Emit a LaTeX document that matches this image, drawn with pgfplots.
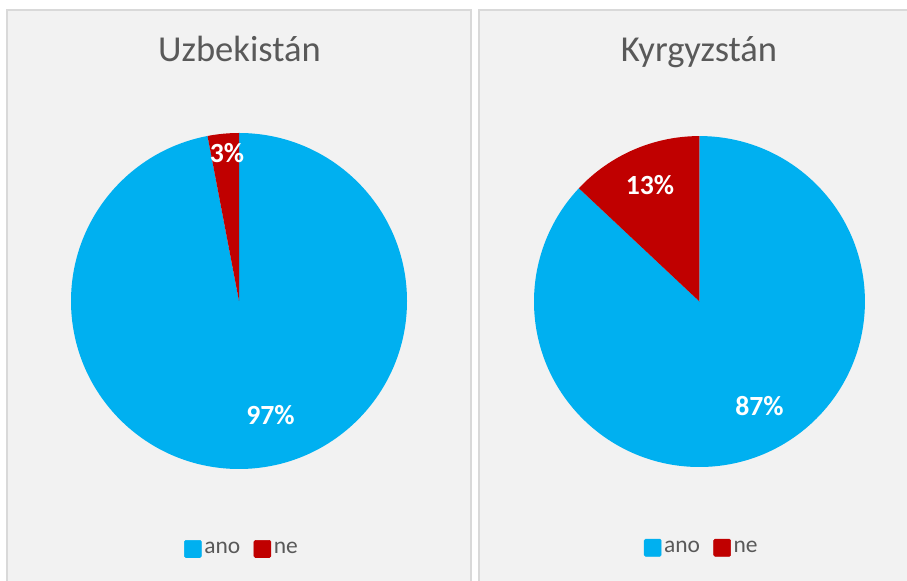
\documentclass[border=0pt]{standalone}
\usepackage{pgfplots}
\usepackage{pgfplotstable}
\pgfplotsset{compat=1.18}
\usepackage{fontspec}
\setmainfont{Carlito}
\definecolor{ano}{HTML}{00B0F0}
\definecolor{ne}{HTML}{C00000}
\definecolor{panel}{HTML}{F2F2F2}
\definecolor{frame}{HTML}{D9D9D9}
\definecolor{txt}{HTML}{595959}

\pgfplotstableread{
kat hodnota
ano 97
ne 3
}\uzbtab
\pgfplotstableread{
kat hodnota
ano 87
ne 13
}\kyrtab

\pgfplotsset{
  pieaxis/.style={
    hide axis, scale only axis, clip=false,
    xmin=-1, xmax=1, ymin=-1, ymax=1,
    anchor=center,
    legend columns=2,
    legend style={font=\fontsize{17.6}{20}\selectfont, text=txt, draw=none, fill=none,
      anchor=center, nodes={inner xsep=2pt},
      /tikz/every even column/.append style={column sep=8pt}},
    legend image code/.code={\fill[##1, rounded corners=1pt] (0pt,-6.4pt) rectangle (12.75pt,6.4pt);},
  },
}
\tikzset{lbl/.style={text=white, font=\fontsize{20.8}{23}\bfseries\selectfont}}

\begin{document}
\begin{tikzpicture}
\begin{scope}
\clip (0,0) rectangle (680.25pt,435.75pt);
\fill[white] (0,0) rectangle (680.25pt,435.75pt);
\draw[fill=panel, draw=frame, line width=1.5pt] (5.25pt,-10pt) rectangle (353.25pt,428.25pt);
\draw[fill=panel, draw=frame, line width=1.5pt] (359.25pt,-10pt) rectangle (690pt,428.25pt);

\node[anchor=base, text=txt, font=\fontsize{27.4}{30}\selectfont] at (179.6pt,389.25pt) {Uzbekistán};
\node[anchor=base, text=txt, font=\fontsize{27.4}{30}\selectfont] at (524.25pt,389.25pt) {Kyrgyzstán};

% Uzbekistan
\pgfplotstablegetelem{0}{hodnota}\of\uzbtab \edef\va{\pgfplotsretval}
\pgfplotstablegetelem{1}{hodnota}\of\uzbtab \edef\vb{\pgfplotsretval}
\pgfmathsetmacro\angA{90-3.6*\va}
\pgfmathsetmacro\angB{\angA-3.6*\vb}
\begin{axis}[pieaxis, x=126pt, y=126pt, at={(179.25pt,210pt)},
  legend style={at={(0.51,-0.238)}}]
\addlegendimage{ano}\addlegendentry{ano}
\addlegendimage{ne}\addlegendentry{ne}
\fill[ano] (axis cs:0,0) -- (axis cs:0,1) arc[start angle=90, end angle=\angA, radius=126pt] -- cycle;
\fill[ne] (axis cs:0,0) -- (axis cs:{cos(\angA)},{sin(\angA)}) arc[start angle=\angA, end angle=\angB, radius=126pt] -- cycle;
\node[lbl] at (axis cs:0.1875,-0.679) {\va\%};
\node[lbl] at (axis cs:-0.071,0.878) {\vb\%};
\end{axis}

% Kyrgyzstan
\pgfplotstablegetelem{0}{hodnota}\of\kyrtab \edef\vc{\pgfplotsretval}
\pgfplotstablegetelem{1}{hodnota}\of\kyrtab \edef\vd{\pgfplotsretval}
\pgfmathsetmacro\angC{90-3.6*\vc}
\pgfmathsetmacro\angD{\angC-3.6*\vd}
\begin{axis}[pieaxis, x=124.1pt, y=124.1pt, at={(524.6pt,209.6pt)},
  legend style={at={(0.508,-0.244)}}]
\addlegendimage{ano}\addlegendentry{ano}
\addlegendimage{ne}\addlegendentry{ne}
\fill[ano] (axis cs:0,0) -- (axis cs:0,1) arc[start angle=90, end angle=\angC, radius=124.1pt] -- cycle;
\fill[ne] (axis cs:0,0) -- (axis cs:{cos(\angC)},{sin(\angC)}) arc[start angle=\angC, end angle=\angD, radius=124.1pt] -- cycle;
\node[lbl] at (axis cs:0.363,-0.631) {\vc\%};
\node[lbl] at (axis cs:-0.299,0.704) {\vd\%};
\end{axis}
\end{scope}
\pgfresetboundingbox
\useasboundingbox (0,0) rectangle (680.25pt,435.75pt);
\end{tikzpicture}
\end{document}
